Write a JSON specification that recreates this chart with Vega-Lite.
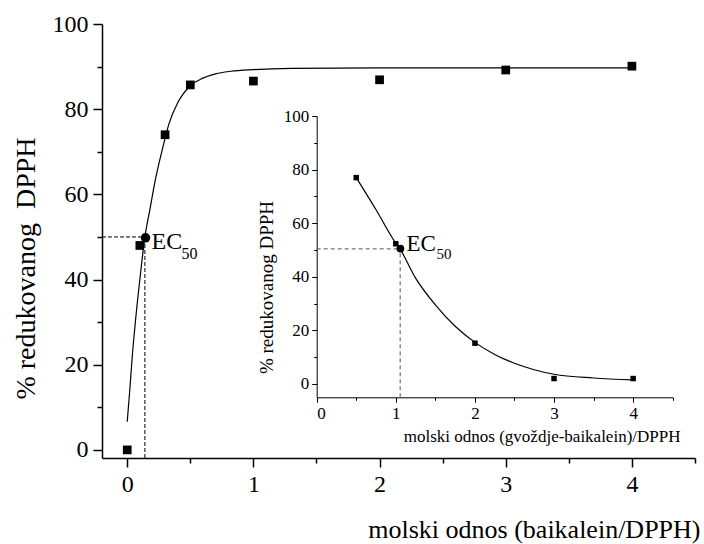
{
  "$schema": "https://vega.github.io/schema/vega-lite/v6.json",
  "width": 593,
  "height": 434,
  "autosize": {"type": "none"},
  "padding": {"left": 102, "top": 24, "right": 9, "bottom": 86},
  "background": "white",
  "config": {
    "view": {"stroke": null},
    "font": "Liberation Serif",
    "text": {"font": "Liberation Serif"},
    "axis": {"grid": false, "domainColor": "black", "tickColor": "black", "labelColor": "black", "titleColor": "black", "labelFont": "Liberation Serif", "titleFont": "Liberation Serif", "titleFontWeight": "normal"}
  },
  "datasets": {
    "main_pts": [{"x": 0, "y": 0}, {"x": 0.1, "y": 48}, {"x": 0.3, "y": 74}, {"x": 0.5, "y": 85.7}, {"x": 1, "y": 86.6}, {"x": 2, "y": 86.9}, {"x": 3, "y": 89.2}, {"x": 4, "y": 90.1}],
    "main_fit": [{"x": 0, "y": 6.6}, {"x": 0.02, "y": 14}, {"x": 0.04, "y": 22}, {"x": 0.066, "y": 30.5}, {"x": 0.1, "y": 40}, {"x": 0.14, "y": 50}, {"x": 0.18, "y": 56.5}, {"x": 0.22, "y": 63}, {"x": 0.277, "y": 70.4}, {"x": 0.33, "y": 76.5}, {"x": 0.4, "y": 81.5}, {"x": 0.5, "y": 85.5}, {"x": 0.6, "y": 87.3}, {"x": 0.7, "y": 88.3}, {"x": 0.82, "y": 88.9}, {"x": 1, "y": 89.3}, {"x": 1.3, "y": 89.6}, {"x": 2, "y": 89.7}, {"x": 3, "y": 89.7}, {"x": 4, "y": 89.7}],
    "main_dash": [{"x": -0.2, "x2": 0.14, "y": 50, "y2": 50}, {"x": 0.14, "x2": 0.14, "y": -1.9, "y2": 50}],
    "main_ec": [{"x": 0.145, "y": 49.8, "t": "EC", "s": "50"}],
    "ins_pts": [{"x": 0.5, "y": 77}, {"x": 1, "y": 52.3}, {"x": 2, "y": 15.2}, {"x": 3, "y": 2}, {"x": 4, "y": 2}],
    "ins_fit": [{"x": 0.5, "y": 77}, {"x": 0.75, "y": 65}, {"x": 1, "y": 52.5}, {"x": 1.06, "y": 50}, {"x": 1.25, "y": 39.5}, {"x": 1.5, "y": 29.5}, {"x": 1.75, "y": 21.5}, {"x": 2, "y": 15.5}, {"x": 2.25, "y": 11}, {"x": 2.5, "y": 7.7}, {"x": 2.75, "y": 5.3}, {"x": 3, "y": 3.6}, {"x": 3.5, "y": 2.2}, {"x": 4, "y": 1.5}],
    "ins_dash": [{"x": 0, "x2": 1.055, "y": 50.4, "y2": 50.4}, {"x": 1.055, "x2": 1.055, "y": -5, "y2": 50.4}],
    "ins_ec": [{"x": 1.058, "y": 50.5, "t": "EC", "s": "50"}]
  },
  "layer": [
    {
      "layer": [
        {
          "data": {"name": "main_fit"},
          "mark": {"type": "line", "color": "black", "strokeWidth": 1.2, "interpolate": "monotone"},
          "encoding": {
            "x": {"field": "x", "type": "quantitative", "scale": {"domain": [-0.2, 4.5], "nice": false, "zero": false},
              "axis": {"title": "molski odnos (baikalein/DPPH)", "values": [0, 0.5, 1, 1.5, 2, 2.5, 3, 3.5, 4, 4.5],
                "labelExpr": "datum.value % 1 === 0 ? format(datum.value, 'd') : ''",
                "tickSize": {"condition": {"test": "datum.value % 1 !== 0", "value": 5}, "value": 9},
                "labelFont": "Liberation Serif", "titleFont": "Liberation Serif",
                "labelFontSize": 24, "labelPadding": 5, "domainWidth": 1.5, "tickWidth": 1.5,
                "titleFontSize": 26, "titleAlign": "right", "titleX": 598, "titleY": 79, "titleBaseline": "alphabetic"}},
            "y": {"field": "y", "type": "quantitative", "scale": {"domain": [-1.9, 100], "nice": false, "zero": false},
              "axis": {"title": "% redukovanog\u00a0 DPPH", "values": [0, 10, 20, 30, 40, 50, 60, 70, 80, 90, 100],
                "labelExpr": "datum.value % 20 === 0 ? format(datum.value, 'd') : ''",
                "tickSize": {"condition": {"test": "datum.value % 20 !== 0", "value": 5}, "value": 9},
                "labelFont": "Liberation Serif", "titleFont": "Liberation Serif",
                "labelFontSize": 24, "labelPadding": 5, "domainWidth": 1.5, "tickWidth": 1.5,
                "titleFontSize": 28, "titleAngle": -90, "titleAlign": "center", "titleBaseline": "alphabetic", "titleX": -68, "titleY": 244}}
          }
        },
        {
          "data": {"name": "main_dash"},
          "mark": {"type": "rule", "color": "black", "strokeWidth": 1, "strokeDash": [4, 2]},
          "encoding": {"x": {"field": "x", "type": "quantitative"}, "x2": {"field": "x2"}, "y": {"field": "y", "type": "quantitative"}, "y2": {"field": "y2"}}
        },
        {
          "data": {"name": "main_pts"},
          "mark": {"type": "point", "shape": "square", "filled": true, "color": "black", "size": 76, "opacity": 1},
          "encoding": {"x": {"field": "x", "type": "quantitative"}, "y": {"field": "y", "type": "quantitative"}}
        },
        {
          "data": {"name": "main_ec"},
          "mark": {"type": "point", "shape": "circle", "filled": true, "color": "black", "size": 90, "opacity": 1},
          "encoding": {"x": {"field": "x", "type": "quantitative"}, "y": {"field": "y", "type": "quantitative"}}
        },
        {
          "data": {"name": "main_ec"},
          "mark": {"type": "text", "align": "left", "baseline": "alphabetic", "dx": 6, "dy": 11, "fontSize": 24, "font": "Liberation Serif", "color": "black"},
          "encoding": {"x": {"field": "x", "type": "quantitative"}, "y": {"field": "y", "type": "quantitative"}, "text": {"field": "t"}}
        },
        {
          "data": {"name": "main_ec"},
          "mark": {"type": "text", "align": "left", "baseline": "alphabetic", "dx": 36, "dy": 21, "fontSize": 16, "font": "Liberation Serif", "color": "black"},
          "encoding": {"x": {"field": "x", "type": "quantitative"}, "y": {"field": "y", "type": "quantitative"}, "text": {"field": "s"}}
        }
      ]
    },
    {
      "layer": [
        {
          "data": {"name": "ins_fit"},
          "mark": {"type": "line", "color": "black", "strokeWidth": 1.2, "interpolate": "monotone"},
          "encoding": {
            "x": {"field": "x", "type": "quantitative", "scale": {"domain": [0, 4.5], "range": [214.7, 570.7], "nice": false, "zero": false},
              "axis": {"orient": "bottom", "offset": -60.7, "title": "molski odnos (gvoždje-baikalein)/DPPH", "values": [0, 0.5, 1, 1.5, 2, 2.5, 3, 3.5, 4, 4.5],
                "labelExpr": "datum.value % 1 === 0 ? format(datum.value, 'd') : ''",
                "tickSize": {"condition": {"test": "datum.value % 1 !== 0", "value": 3}, "value": 5},
                "labelFont": "Liberation Serif", "titleFont": "Liberation Serif",
                "labelFontSize": 17, "labelPadding": 3, "domainWidth": 1, "tickWidth": 1,
                "titleFontSize": 17, "titleAlign": "right", "titleX": 578, "titleY": 44, "titleBaseline": "alphabetic"}},
            "y": {"field": "y", "type": "quantitative", "scale": {"domain": [-5, 100], "range": [373.3, 92], "nice": false, "zero": false},
              "axis": {"orient": "left", "offset": -214.7, "title": "% redukovanog DPPH", "values": [0, 10, 20, 30, 40, 50, 60, 70, 80, 90, 100],
                "labelExpr": "datum.value % 20 === 0 ? format(datum.value, 'd') : ''",
                "tickSize": {"condition": {"test": "datum.value % 20 !== 0", "value": 3}, "value": 5},
                "labelFont": "Liberation Serif", "titleFont": "Liberation Serif",
                "labelFontSize": 17, "labelPadding": 3, "domainWidth": 1, "tickWidth": 1,
                "titleFontSize": 19, "titleAngle": -90, "titleAlign": "center", "titleBaseline": "alphabetic", "titleX": -44, "titleY": 263}}
          }
        },
        {
          "data": {"name": "ins_dash"},
          "mark": {"type": "rule", "color": "#555555", "strokeWidth": 1, "strokeDash": [4, 3]},
          "encoding": {"x": {"field": "x", "type": "quantitative"}, "x2": {"field": "x2"}, "y": {"field": "y", "type": "quantitative"}, "y2": {"field": "y2"}}
        },
        {
          "data": {"name": "ins_pts"},
          "mark": {"type": "point", "shape": "square", "filled": true, "color": "black", "size": 30, "opacity": 1},
          "encoding": {"x": {"field": "x", "type": "quantitative"}, "y": {"field": "y", "type": "quantitative"}}
        },
        {
          "data": {"name": "ins_ec"},
          "mark": {"type": "point", "shape": "circle", "filled": true, "color": "black", "size": 60, "opacity": 1},
          "encoding": {"x": {"field": "x", "type": "quantitative"}, "y": {"field": "y", "type": "quantitative"}}
        },
        {
          "data": {"name": "ins_ec"},
          "mark": {"type": "text", "align": "left", "baseline": "alphabetic", "dx": 6, "dy": 2, "fontSize": 23, "font": "Liberation Serif", "color": "black"},
          "encoding": {"x": {"field": "x", "type": "quantitative"}, "y": {"field": "y", "type": "quantitative"}, "text": {"field": "t"}}
        },
        {
          "data": {"name": "ins_ec"},
          "mark": {"type": "text", "align": "left", "baseline": "alphabetic", "dx": 36, "dy": 10, "fontSize": 15, "font": "Liberation Serif", "color": "black"},
          "encoding": {"x": {"field": "x", "type": "quantitative"}, "y": {"field": "y", "type": "quantitative"}, "text": {"field": "s"}}
        }
      ]
    }
  ],
  "resolve": {"scale": {"x": "independent", "y": "independent"}, "axis": {"x": "independent", "y": "independent"}}
}
